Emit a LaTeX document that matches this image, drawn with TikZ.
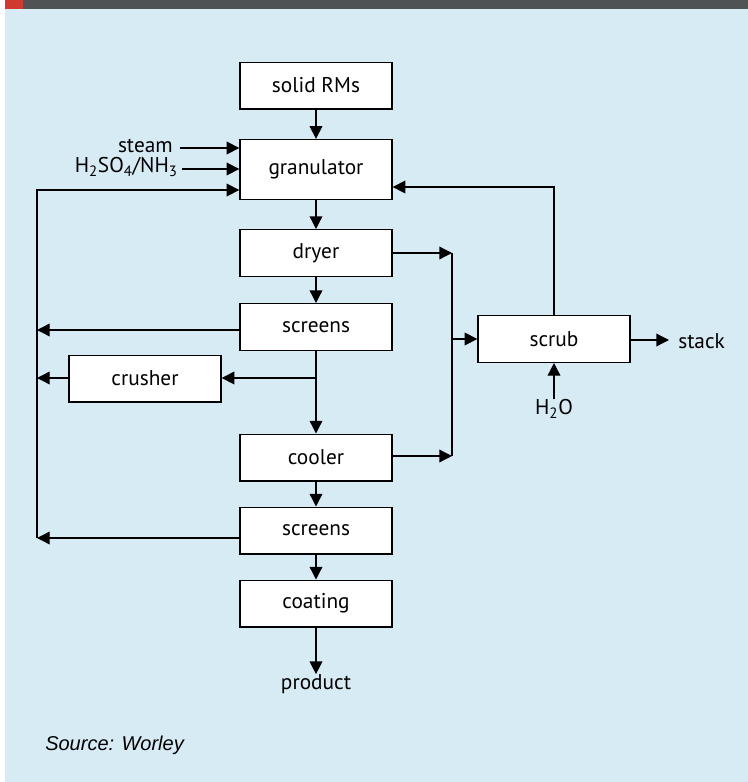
\documentclass[tikz,border=0pt]{standalone}
\usepackage{fontspec}
\setmainfont{PT Sans}
\newfontfamily\srcfont{Liberation Sans}
\usetikzlibrary{arrows.meta}
\definecolor{bgblue}{HTML}{D7EBF4}
\definecolor{bardark}{HTML}{4F5354}
\definecolor{barred}{HTML}{D03A2E}
\tikzset{
  unit/.style={draw, fill=white, line width=1pt, minimum width=114pt, minimum height=35pt, inner sep=0pt, font=\fontsize{16}{19}\selectfont},
  lbl/.style={inner sep=0pt, font=\fontsize{16}{19}\selectfont},
  flow/.style={draw, line width=1pt, -{Triangle[length=9.5pt,width=9.5pt]}},
  pipe/.style={draw, line width=1pt}
}
\begin{document}
\begin{tikzpicture}[x=0.75pt,y=-0.75pt]
\useasboundingbox (0,0) rectangle (748,782);
\fill[white] (0,0) rectangle (748,782);
\fill[bgblue] (5,9) rectangle (748,782);
\fill[bardark] (5,0) rectangle (748,9);
\fill[barred] (5,0) rectangle (23,9);
% main line
\node[unit] (rms) at (316,85.5) {solid RMs};
\node[unit, minimum height=45pt] (gran) at (316,169.5) {granulator};
\node[unit] (dryer) at (316,253) {dryer};
\node[unit] (scr1) at (316,327) {screens};
\node[unit] (crush) at (145,378.5) {crusher};
\node[unit] (cool) at (316,457.5) {cooler};
\node[unit] (scr2) at (316,530.5) {screens};
\node[unit] (coat) at (316,603.5) {coating};
\node[lbl] (prod) at (316,684) {product};
% scrubber
\node[unit] (scrub) at (554,339) {scrub};
\node[lbl, anchor=west] (stack) at (678,341) {stack};
\node[lbl] (water) at (554,409) {H\textsubscript{2}O};
% inputs
\node[lbl, anchor=east] (steam) at (173,146) {steam};
\node[lbl, anchor=east] (acid) at (178,167) {H\textsubscript{2}SO\textsubscript{4}/NH\textsubscript{3}};
\coordinate (jtop) at (452,253);
\coordinate (jbot) at (452,456);
\coordinate (jmid) at (452,339);
\coordinate (ltop) at (37,190);
\coordinate (lbot) at (37,538);
\coordinate (split) at (316,378);
\coordinate (stackin) at (669,340);
\path[flow] (rms) -- (gran);
\path[flow] (gran) -- (dryer);
\path[flow] (dryer) -- (scr1);
\path[flow] (scr1) -- (cool);
\path[flow] (cool) -- (scr2);
\path[flow] (scr2) -- (coat);
\path[flow] (coat) -- (prod.north);
\path[flow] (steam.east |- 0,148) ++(7,0) -- (gran.west |- 0,148);
\path[flow] (acid.east |- 0,169) ++(4,0) -- (gran.west |- 0,169);
% recycle
\path[flow] (lbot) -- (ltop) -- (gran.west |- ltop);
\path[flow] (scr1.west |- 0,330) -- (37,330);
\path[flow] (split) -- (crush.east |- split);
\path[flow] (crush.west |- split) -- (37,378);
\path[flow] (scr2.west |- lbot) -- (lbot);
% off-gas
\path[flow] (dryer.east |- jtop) -- (jtop);
\path[flow] (cool.east |- jbot) -- (jbot);
\path[pipe] (jtop) -- (jbot);
\path[flow] (jmid) -- (scrub.west);
\path[flow] (scrub.north) -- (554,187) -- (gran.east |- 0,187);
\path[flow] (scrub.east |- stackin) -- (stackin);
\path[flow] (water.north) -- (scrub.south);
\node[anchor=west, inner sep=0pt, font=\srcfont\itshape\fontsize{15}{18}\selectfont] (src) at (45,745) {Source: Worley};
\end{tikzpicture}
\end{document}
